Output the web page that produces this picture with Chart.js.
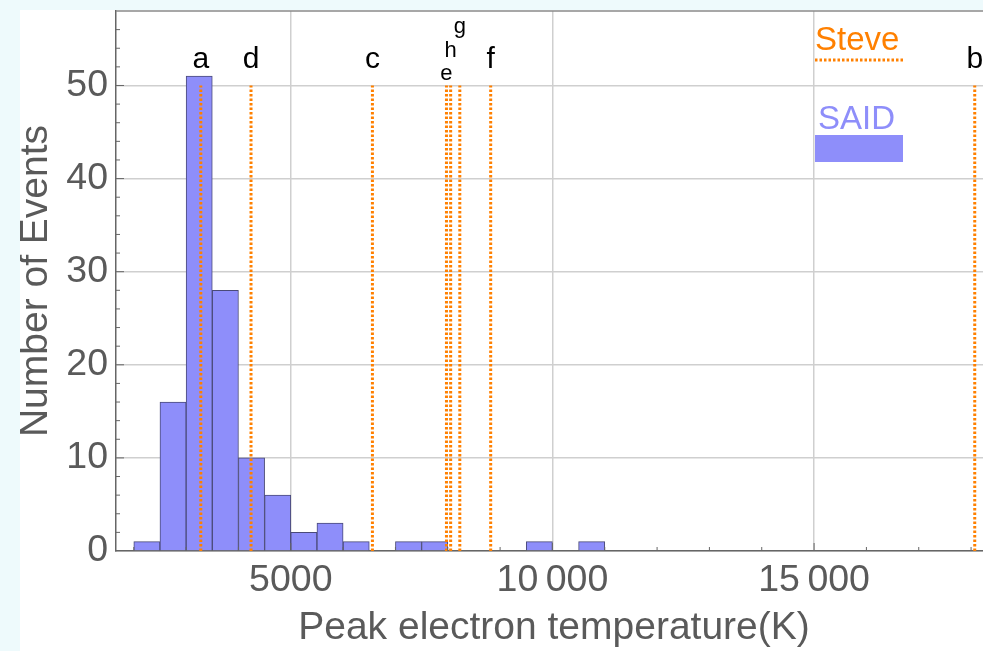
<!DOCTYPE html>
<html>
<head>
<meta charset="utf-8">
<script src="https://cdn.jsdelivr.net/npm/chart.js@4.4.1/dist/chart.umd.min.js"></script>
<style>
  html, body { margin: 0; padding: 0; overflow: hidden; background: #eefafc; }
  #wrap { position: absolute; left: 20px; top: 10px; width: 1000px; height: 641px; background: #fff; }
</style>
</head>
<body>
<div id="wrap"><canvas id="histo" width="1000" height="641"></canvas></div>
<script>
// histogram bins (K) and counts
const binStarts = [2000, 2500, 3000, 3500, 4000, 4500, 5000, 5500, 6000, 6500, 7000, 7500, 8000, 8500, 9000, 9500, 10000, 10500];
const binWidth = 500;
const eventCounts = [1, 16, 51, 28, 10, 6, 2, 3, 1, 0, 1, 1, 0, 0, 0, 1, 0, 1];

// Steve events (peak Te, K)
const steveNames = ['a', 'd', 'c', 'e', 'h', 'g', 'f', 'b'];
const steveTemps = [3280, 4240, 6560, 7975, 8055, 8230, 8820, 18070];
const steveLineTop = 50;

const xTickValues = [5000, 10000, 15000];
const xTickLabels = ['5000', '10\u2009000', '15\u2009000'];
const yTickLabels = ['0', '10', '20', '30', '40', '50'];

const fam = '"Liberation Sans", Arial, Helvetica, sans-serif';
const grayText = '#5a5a5a';
const orange = '#ff8000';
const barFill = 'rgb(142,142,250)';

const extras = {
    id: 'extras',
    afterDatasetsDraw(chart) {
        const { ctx, chartArea: a, scales: { x, y } } = chart;
        ctx.save();
        // frame top
        ctx.strokeStyle = '#8a8a8a';
        ctx.lineWidth = 1.5;
        ctx.beginPath();
        ctx.moveTo(a.left, a.top);
        ctx.lineTo(a.right, a.top);
        ctx.stroke();

        // inward ticks
        ctx.strokeStyle = '#666';
        ctx.lineWidth = 1;
        ctx.beginPath();
        for (let v = 2; v < y.max; v += 2) {
            const py = y.getPixelForValue(v);
            const len = v % 10 === 0 ? 8 : 4;
            ctx.moveTo(a.left, py);
            ctx.lineTo(a.left + len, py);
        }
        for (let v = 2000; v < x.max; v += 1000) {
            const px = x.getPixelForValue(v);
            const len = v % 5000 === 0 ? 8 : 4;
            ctx.moveTo(px, a.bottom);
            ctx.lineTo(px, a.bottom - len);
        }
        ctx.stroke();

        // event letters
        const y50 = y.getPixelForValue(steveLineTop);
        const lift = { e: 5.5, h: 28.5, g: 52 };
        ctx.fillStyle = '#000';
        ctx.textAlign = 'center';
        ctx.textBaseline = 'alphabetic';
        steveNames.forEach((n, i) => {
            const px = x.getPixelForValue(steveTemps[i]);
            const small = lift[n] !== undefined;
            ctx.font = (small ? 22 : 30) + 'px ' + fam;
            ctx.fillText(n, px, y50 - (small ? lift[n] : 17.5));
        });

        // legend
        ctx.textAlign = 'left';
        ctx.font = '33px ' + fam;
        ctx.fillStyle = orange;
        ctx.fillText('Steve', 795, 40);
        ctx.strokeStyle = orange;
        ctx.lineWidth = 3;
        ctx.setLineDash([2.5, 2]);
        ctx.beginPath();
        ctx.moveTo(795, 50);
        ctx.lineTo(883, 50);
        ctx.stroke();
        ctx.setLineDash([]);
        ctx.fillStyle = barFill;
        ctx.fillText('SAID', 798, 119);
        ctx.fillRect(795, 125, 88, 27);
        ctx.restore();
    }
};

const datasets = [{
    type: 'bar',
    label: 'SAID',
    data: binStarts.map((s, i) => ({ x: s + binWidth / 2, y: eventCounts[i] })),
    backgroundColor: barFill,
    borderColor: '#4a4a78',
    borderWidth: 1,
    borderSkipped: 'start',
    barPercentage: 1,
    categoryPercentage: 1,
    order: 2
}];
steveTemps.forEach((t, i) => {
    datasets.push({
        type: 'line',
        label: steveNames[i],
        data: [{ x: t, y: 0 }, { x: t, y: steveLineTop }],
        borderColor: orange,
        borderWidth: 3,
        borderDash: [2.5, 2],
        pointRadius: 0,
        order: 0
    });
});

new Chart(document.getElementById('histo'), {
    data: { datasets },
    options: {
        responsive: false,
        animation: false,
        layout: { padding: { left: 0, top: 1, right: 28, bottom: 0 } },
        plugins: { legend: { display: false }, tooltip: { enabled: false } },
        scales: {
            x: {
                type: 'linear',
                min: 1660,
                max: 18400,
                offset: false,
                afterBuildTicks: s => { s.ticks = xTickValues.map(v => ({ value: v })); },
                afterFit: s => { s.height = 100; s.paddingLeft = 0; s.paddingRight = 0; },
                ticks: {
                    padding: 7,
                    color: grayText,
                    maxRotation: 0,
                    autoSkip: false,
                    font: { family: fam, size: 37.5 },
                    callback: v => xTickLabels[xTickValues.indexOf(v)]
                },
                grid: { color: '#cfcfcf', lineWidth: 1.5, drawTicks: false, offset: false },
                border: { color: '#666', width: 1.5 },
                title: {
                    display: true,
                    text: 'Peak electron temperature(K)',
                    color: grayText,
                    padding: 0,
                    font: { family: fam, size: 39, lineHeight: 1.17 }
                }
            },
            y: {
                type: 'linear',
                min: 0,
                max: 58,
                afterBuildTicks: s => { s.ticks = yTickLabels.map(l => ({ value: Number(l) })); },
                afterFit: s => { s.width = 96; s.paddingTop = 0; s.paddingBottom = 0; },
                ticks: {
                    padding: 8,
                    color: grayText,
                    font: { family: fam, size: 37.5 },
                    callback: v => yTickLabels[yTickLabels.indexOf(String(v))]
                },
                grid: { color: '#cfcfcf', lineWidth: 1.5, drawTicks: false },
                border: { color: '#666', width: 1.5 },
                title: {
                    display: true,
                    text: 'Number of Events',
                    color: grayText,
                    padding: { top: 0, bottom: 0 },
                    font: { family: fam, size: 39, lineHeight: 0.82 }
                }
            }
        }
    },
    plugins: [extras]
});
</script>
</body>
</html>
